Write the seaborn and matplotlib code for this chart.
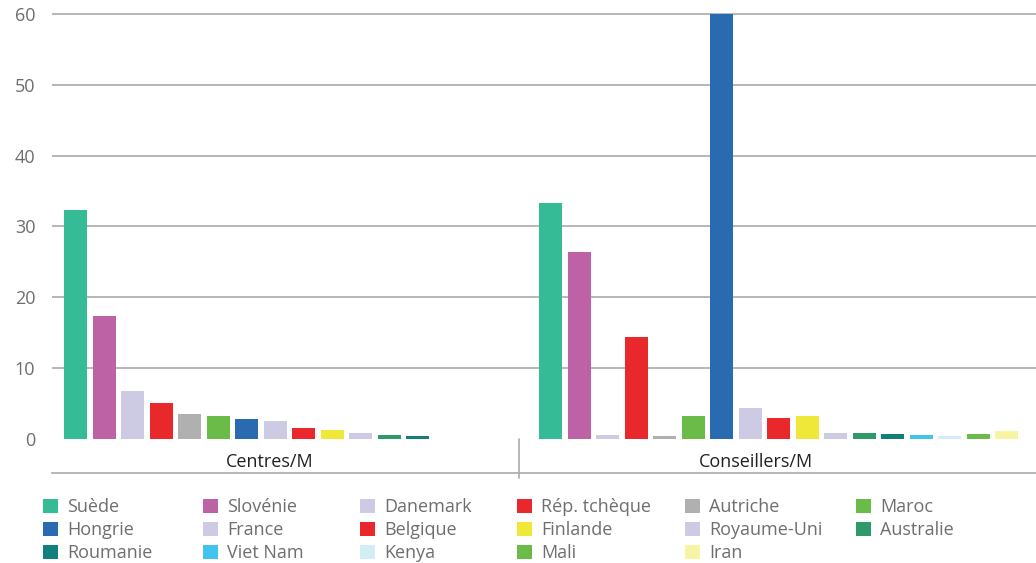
import numpy as np
import pandas as pd
import seaborn as sns
import matplotlib
matplotlib.use("Agg")
import matplotlib.pyplot as plt
from matplotlib.patches import Patch

groupes = ["Centres/M", "Conseillers/M"]
pays = ["Suède", "Slovénie", "Danemark", "Rép. tchèque", "Autriche", "Maroc",
        "Hongrie", "France", "Belgique", "Finlande", "Royaume-Uni", "Australie",
        "Roumanie", "Viet Nam", "Kenya", "Mali", "Iran"]
couleurs = ["#35bb96", "#bc62a5", "#cdcae3", "#e9282b", "#b0b0b0", "#6bbb48",
            "#2a6ab1", "#cdcae3", "#e9282b", "#efe838", "#cdcae3", "#2e9a6a",
            "#137f7c", "#41c3ef", "#d2eef4", "#6bbb48", "#f7f4a4"]
centres = [32.3, 17.4, 6.8, 5.1, 3.5, 3.25, 2.8, 2.5, 1.55, 1.3, 0.85, 0.6, 0.45,
           np.nan, np.nan, np.nan, np.nan]
conseillers = [33.3, 26.4, 0.55, 14.4, 0.4, 3.25, 60, 4.4, 3.0, 3.25, 0.85, 0.85,
               0.7, 0.55, 0.4, 0.7, 1.15]

df = pd.DataFrame({
    "groupe": [groupes[0]] * len(pays) + [groupes[1]] * len(pays),
    "pays": pays + pays,
    "valeur": centres + conseillers,
}).dropna()

sns.set_theme(style="white")
plt.rcParams["font.family"] = ["Open Sans", "DejaVu Sans"]
gris = "#6d6e71"
ligne = "#aaaaaa"

fig = plt.figure(figsize=(10.36, 5.63), dpi=100)
ax = fig.add_axes([0.0502, 0.1599, 0.9498, 0.819])

sns.barplot(data=df, x="groupe", y="valeur", hue="pays", hue_order=pays,
            order=groupes, palette=dict(zip(pays, couleurs)), dodge=True,
            width=1.02, gap=0.193, errorbar=None, saturation=1, legend=False,
            linewidth=0, ax=ax)

ax.set_xlim(-0.5295, 1.542)
ax.set_ylim(-4.8, 60.3)
yt = list(range(0, 61, 10))
ax.set_yticks(yt)
for t in yt:
    if t > 0:
        ax.axhline(t, color=ligne, lw=1.2, zorder=0)
ax.tick_params(axis="y", length=0, pad=12, labelsize=13, labelcolor=gris)

ax.set_xticks([-0.0716, 0.9516], groupes, va="center")
ax.tick_params(axis="x", length=0, pad=-8, labelsize=13, labelcolor="#231f20")
ax.set_xlabel("")
ax.set_ylabel("")

for s in ["left", "right", "top"]:
    ax.spines[s].set_visible(False)
ax.spines["bottom"].set_color(ligne)
ax.spines["bottom"].set_linewidth(1.2)
ax.axvline(0.4526, ymin=-0.0109, ymax=0.0741, color=ligne, lw=1.2, clip_on=False)

# legend is read row by row: one small legend per column, fixed column starts
ncol = 6
col_x = [43, 203, 360, 517, 685, 856]
for c in range(ncol):
    handles = [Patch(facecolor=couleurs[i], edgecolor="none", label=pays[i])
               for i in range(c, len(pays), ncol)]
    fig.legend(handles=handles, loc="upper left",
               bbox_to_anchor=(col_x[c] / 1036, 0.115),
               frameon=False, fontsize=13, labelcolor=gris,
               handlelength=0.85, handleheight=0.8, handletextpad=0.5,
               labelspacing=0.27, borderpad=0, borderaxespad=0)

fig.savefig("out.png", dpi=100)
